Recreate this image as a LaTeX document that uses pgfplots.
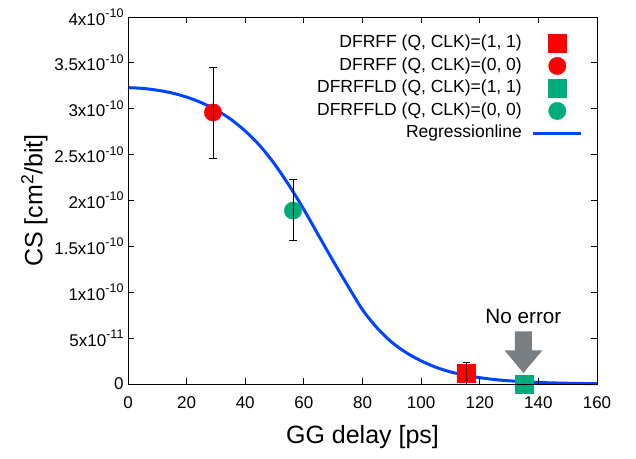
\documentclass[border=0pt]{standalone}
\usepackage{pgfplots}
\pgfplotsset{compat=1.18}
\usepackage{fontspec}
\setmainfont{Liberation Sans}
\definecolor{cred}{RGB}{255,0,0}
\definecolor{cgreen}{RGB}{0,173,122}
\definecolor{cblue}{RGB}{0,68,255}
\definecolor{cgray}{RGB}{121,126,131}
\newcommand{\sci}[2]{#1x10\raisebox{0.45em}{\fontsize{12.5}{12.5}\selectfont #2}}
\begin{document}
\begin{tikzpicture}
\path[use as bounding box] (-128pt,-74pt) rectangle (508pt,384pt);
\begin{axis}[
  scale only axis, width=469pt, height=367pt,
  xmin=0, xmax=160, ymin=0, ymax=4e-10,
  clip=false, clip marker paths=true, axis on top,
  axis line style={black, line width=0.8pt},
  tick style={black, line width=0.8pt},
  major tick length=6pt, tick align=inside, tick pos=both,
  xtick={0,20,...,160},
  ytick={0,0.5e-10,1e-10,1.5e-10,2e-10,2.5e-10,3e-10,3.5e-10,4e-10},
  yticklabels={0,\sci{5}{-11},\sci{1}{-10},\sci{1.5}{-10},\sci{2}{-10},\sci{2.5}{-10},\sci{3}{-10},\sci{3.5}{-10},\sci{4}{-10}},
  scaled y ticks=false,
  /pgf/number format/assume math mode=true,
  ticklabel style={font=\fontsize{17}{20}\selectfont},
  xticklabel style={yshift=-9pt},
  yticklabel style={xshift=-1pt},
  xlabel={GG delay [ps]},
  ylabel={CS [cm\textsuperscript{2}/bit]},
  xlabel style={yshift=-10pt},
  label style={font=\fontsize{25}{30}\selectfont},
  legend plot pos=right,
  legend cell align=right,
  legend image code/.code={\draw[mark repeat=2,mark phase=2,#1] plot coordinates {(0pt,0pt) (24pt,0pt) (48pt,0pt)};},
  legend style={draw=none, fill=none, inner sep=0pt,
    at={(rel axis cs:1,1)}, anchor=north east, xshift=-14pt, yshift=-15pt,
    font=\fontsize{17.5}{21}\selectfont,
    nodes={text height=13pt, text depth=4.5pt, inner ysep=2.5pt, inner xsep=0pt},
    /tikz/every odd column/.append style={column sep=10pt}},
]
% regression line
\addplot[cblue, line width=3pt, smooth, forget plot] coordinates {
(0,3.23e-10) (5,3.222e-10) (10,3.202e-10) (15,3.172e-10) (20,3.127e-10) (25,3.067e-10)
(30,2.987e-10) (35,2.887e-10) (40,2.757e-10) (45,2.597e-10) (50,2.397e-10) (55,2.162e-10)
(60,1.902e-10) (65,1.62e-10) (70,1.34e-10) (75,1.07e-10) (80,0.81e-10) (85,0.61e-10)
(90,0.455e-10) (95,0.34e-10) (100,0.252e-10) (105,0.183e-10) (110,0.132e-10) (115,0.096e-10)
(120,0.069e-10) (125,0.049e-10) (130,0.035e-10) (140,0.017e-10) (150,0.008e-10) (160,0.004e-10)};
% data points
\addplot[forget plot, only marks, mark=square*, mark size=9pt, cred, mark options={draw=none, fill=cred}]
  coordinates {(115.4,0.117e-10)};
\addplot[forget plot, only marks, mark=*, mark size=8.7pt, cred, mark options={draw=none, fill=cred}]
  coordinates {(29,2.96e-10)};
\addplot[forget plot, only marks, mark=square*, mark size=9pt, cgreen, mark options={draw=none, fill=cgreen}]
  coordinates {(135,0)};
\addplot[forget plot, only marks, mark=*, mark size=8.7pt, cgreen, mark options={draw=none, fill=cgreen}]
  coordinates {(56.3,1.89e-10)};
% error bars (caps and bars)
\addplot[forget plot, draw=none, mark=none,
  error bars/.cd, y dir=both, y explicit,
  error bar style={draw=black, line width=0.7pt},
  error mark options={rotate=90, mark size=3.7pt, draw=black, line width=0.7pt}]
  coordinates {
  (29,2.955e-10) +- (0,0.495e-10)
  (56.3,1.90e-10) +- (0,0.33e-10)
  (115.4,0.117e-10) +- (0,0.117e-10)};
% error bar segments across the markers
\addplot[forget plot, only marks, mark=|, mark size=45.3pt, mark options={black, line width=0.7pt}]
  coordinates {(29,2.955e-10)};
\addplot[forget plot, only marks, mark=|, mark size=30.2pt, mark options={black, line width=0.7pt}]
  coordinates {(56.3,1.90e-10)};
\addplot[forget plot, only marks, mark=|, mark size=10.7pt, mark options={black, line width=0.7pt}]
  coordinates {(115.4,0.117e-10)};
% legend
\addlegendimage{only marks, mark=square*, mark size=9pt, cred, mark options={draw=none, fill=cred}}
\addlegendentry{DFRFF (Q, CLK)=(1, 1)}
\addlegendimage{only marks, mark=*, mark size=8.7pt, cred, mark options={draw=none, fill=cred}}
\addlegendentry{DFRFF (Q, CLK)=(0, 0)}
\addlegendimage{only marks, mark=square*, mark size=9pt, cgreen, mark options={draw=none, fill=cgreen}}
\addlegendentry{DFRFFLD (Q, CLK)=(1, 1)}
\addlegendimage{only marks, mark=*, mark size=8.7pt, cgreen, mark options={draw=none, fill=cgreen}}
\addlegendentry{DFRFFLD (Q, CLK)=(0, 0)}
\addlegendimage{cblue, line width=3pt}
\addlegendentry{Regressionline}
% annotation
\fill[cgray] (axis cs:134.9,0.12e-10) -- ++(-19pt,22.7pt) -- ++(10.5pt,0pt) -- ++(0pt,19pt)
  -- ++(17pt,0pt) -- ++(0pt,-19pt) -- ++(10.5pt,0pt) -- cycle;
\node[anchor=base, font=\fontsize{20.7}{24}\selectfont, inner sep=0pt] at (axis cs:134.9,0.663e-10) {No error};
\end{axis}
\end{tikzpicture}
\end{document}
